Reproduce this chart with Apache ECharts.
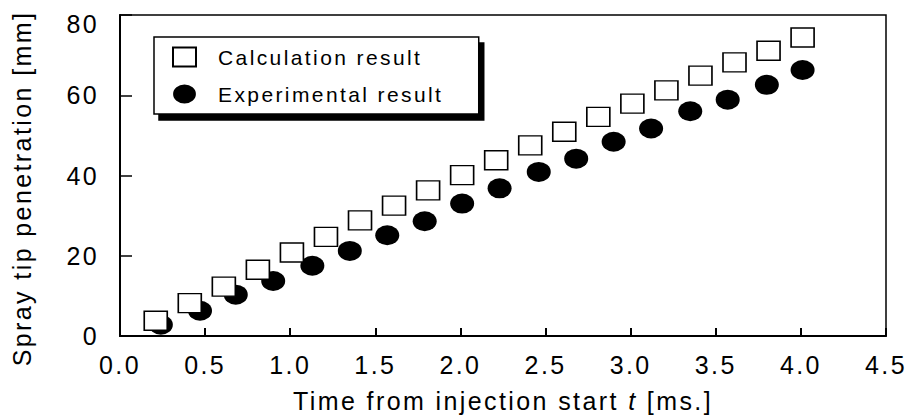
<!DOCTYPE html>
<html>
<head>
<meta charset="utf-8">
<script src="https://cdn.jsdelivr.net/npm/echarts@6/dist/echarts.min.js"></script>
<style>
  html, body { margin: 0; padding: 0; background: #fff; }
  #main { width: 911px; height: 418px; letter-spacing: 2.4px; }
</style>
</head>
<body>
<div id="main"></div>
<script>
// values
const calcT = [0.21, 0.41, 0.61, 0.81, 1.01, 1.21, 1.41, 1.61, 1.81, 2.01,
  2.21, 2.41, 2.61, 2.81, 3.01, 3.21, 3.41, 3.61, 3.81, 4.01];
const calcPen = [3.8, 8.2, 12.3, 16.5, 20.8, 24.7, 28.8, 32.5, 36.3, 40.1,
  43.8, 47.5, 50.9, 54.6, 57.9, 61.2, 64.9, 68.2, 71.1, 74.4];
const expT = [0.24, 0.47, 0.68, 0.90, 1.13, 1.35, 1.57, 1.79, 2.01,
  2.23, 2.46, 2.68, 2.90, 3.12, 3.35, 3.57, 3.80, 4.01];
const expPen = [2.8, 6.3, 10.3, 13.7, 17.5, 21.2, 25.1, 28.6, 33.0,
  36.8, 40.9, 44.2, 48.4, 51.7, 56.0, 58.9, 62.6, 66.3];
const xTicks = [0, 0.5, 1, 1.5, 2, 2.5, 3, 3.5, 4, 4.5];
const yTicks = [0, 20, 40, 60, 80];

const font = "'Liberation Sans', Arial, sans-serif";
const ls = 2.4; // same as the css letter-spacing
const ellipse = "path://M0,10A12,10 0 1 1 24,10A12,10 0 1 1 0,10Z";

// x title in three pieces so the t can be italic
const nameA = "Time from injection start";
const nameB = "t";
const nameC = "[ms.]";
const gap = 25 * 0.278 + ls; // one space

// rich pieces are measured without the css spacing, so pad them by it
function piece(txt, after, extra) {
  const e = txt.length * ls;
  return Object.assign({
    fontFamily: font, fontSize: 25, color: "#000",
    padding: [0, e / 2 + after, 0, e / 2]
  }, extra || {});
}

const chart = echarts.init(document.getElementById("main"), null, { renderer: "svg" });
chart.setOption({
  animation: false,
  grid: {
    left: 120, right: 25, top: 15, bottom: 81,
    show: true, borderColor: "#000", borderWidth: 1.5, backgroundColor: "#fff"
  },
  legend: {
    orient: "vertical",
    left: 154, top: 37,
    data: ["Calculation result", "Experimental result"],
    itemWidth: 23, itemHeight: 19, itemGap: 13,
    padding: [8, 81, 8, 18],
    backgroundColor: "#fff",
    borderColor: "#000", borderWidth: 1.5, borderRadius: 0,
    shadowColor: "#000", shadowBlur: 0, shadowOffsetX: 5, shadowOffsetY: 6,
    textStyle: {
      fontFamily: font, fontSize: 21, color: "#000", lineHeight: 24,
      padding: [0, 0, 0, 17]
    }
  },
  xAxis: {
    type: "value",
    min: 0, max: 4.5, interval: 0.5,
    name: "{a|" + nameA + "}{b|" + nameB + "}{c|" + nameC + "}",
    nameLocation: "middle", nameGap: 52,
    nameTextStyle: {
      fontFamily: font, fontSize: 25, color: "#000",
      rich: {
        a: piece(nameA, gap),
        b: piece(nameB, gap, { fontStyle: "italic" }),
        c: piece(nameC, 0)
      }
    },
    splitLine: { show: false },
    axisLine: { lineStyle: { color: "#000", width: 2 } },
    axisTick: { inside: true, length: 8, lineStyle: { color: "#000", width: 2 } },
    axisLabel: {
      fontFamily: font, fontSize: 25, color: "#000", margin: 16,
      formatter: v => xTicks.includes(v) ? v.toFixed(1) : ""
    }
  },
  yAxis: {
    type: "value",
    min: 0, max: 80, interval: 20,
    name: "Spray tip penetration [mm]",
    nameLocation: "middle", nameGap: 86,
    nameTextStyle: { fontFamily: font, fontSize: 25, color: "#000", padding: [0, 26, 0, 0] },
    splitLine: { show: false },
    axisLine: { lineStyle: { color: "#000", width: 2 } },
    axisTick: { inside: true, length: 12, lineStyle: { color: "#000", width: 1.5 } },
    axisLabel: {
      fontFamily: font, fontSize: 25, color: "#000", margin: 21,
      formatter: v => !yTicks.includes(v) ? "" : (v === 80 ? "{t|80}" : String(v)),
      rich: { t: { fontFamily: font, fontSize: 25, color: "#000", padding: [18, 0, 0, 0] } }
    }
  },
  series: [
    {
      name: "Experimental result",
      type: "scatter",
      symbol: ellipse,
      symbolSize: [24, 20],
      itemStyle: { color: "#000", opacity: 1 },
      data: expT.map((t, i) => [t, expPen[i]]),
      z: 2
    },
    {
      name: "Calculation result",
      type: "scatter",
      symbol: "rect",
      symbolSize: [23, 19],
      itemStyle: { color: "#fff", borderColor: "#000", borderWidth: 1.5, opacity: 1 },
      data: calcT.map((t, i) => [t, calcPen[i]]),
      z: 3
    }
  ]
});
</script>
</body>
</html>
